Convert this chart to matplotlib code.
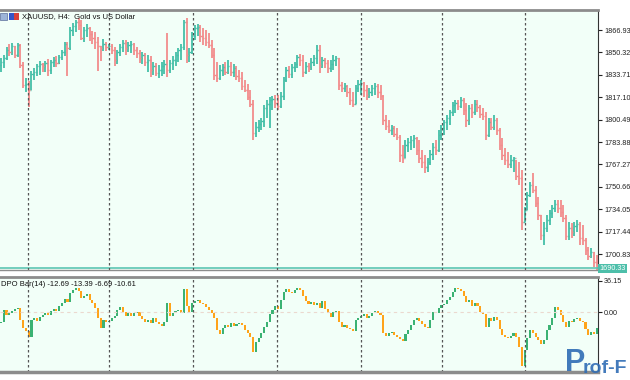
import numpy as np
import matplotlib
matplotlib.use("Agg")
import matplotlib.pyplot as plt
from matplotlib.patches import Rectangle

plt.rcParams['font.family'] = ['Liberation Sans', 'DejaVu Sans']

# XAUUSD H4 - precios (maximo, minimo, cierre)
first_open = 1841.0
highs = [1846.2, 1848.4, 1854.3, 1856.6, 1857.3, 1855.1, 1857.3, 1856.6, 1843.2, 1831.4,
         1829.1, 1836.5, 1838.8, 1841.7, 1844.0, 1842.5, 1844.0, 1845.4, 1844.7, 1846.9,
         1847.7, 1848.4, 1852.1, 1858.0, 1858.0, 1869.2, 1872.1, 1874.3, 1875.8, 1874.3,
         1869.2, 1871.4, 1869.2, 1866.2, 1865.5, 1861.7, 1855.1, 1860.3, 1858.0, 1856.6,
         1856.6, 1854.3, 1852.1, 1856.6, 1859.5, 1859.5, 1858.0, 1858.8, 1857.3, 1854.3,
         1852.1, 1850.6, 1849.9, 1848.4, 1847.7, 1843.2, 1842.5, 1841.0, 1843.2, 1844.7,
         1864.7, 1844.7, 1847.7, 1850.6, 1853.6, 1856.6, 1874.3, 1875.8, 1853.6, 1865.5,
         1870.6, 1871.4, 1870.6, 1868.4, 1866.9, 1864.7, 1859.5, 1853.6, 1843.2, 1841.0,
         1841.7, 1843.2, 1844.7, 1843.2, 1841.7, 1840.2, 1837.3, 1835.8, 1829.9, 1826.9,
         1822.5, 1815.0, 1798.7, 1800.2, 1801.7, 1811.3, 1815.0, 1817.3, 1818.0, 1818.7,
         1818.7, 1821.0, 1832.1, 1839.5, 1840.2, 1841.7, 1843.2, 1848.4, 1849.1, 1848.4,
         1843.2, 1842.5, 1846.2, 1848.4, 1855.8, 1855.8, 1846.9, 1846.2, 1844.7, 1844.7,
         1848.4, 1847.7, 1846.2, 1828.4, 1827.6, 1826.2, 1823.9, 1821.0, 1826.2, 1829.9,
         1829.9, 1828.4, 1826.2, 1823.9, 1826.2, 1827.6, 1826.9, 1826.2, 1818.7, 1803.9,
         1800.2, 1796.5, 1795.8, 1794.3, 1789.1, 1781.7, 1785.4, 1786.9, 1788.4, 1789.1,
         1787.6, 1785.4, 1778.0, 1774.3, 1772.0, 1778.0, 1783.2, 1785.4, 1792.8, 1796.5,
         1800.2, 1803.9, 1807.6, 1813.6, 1815.0, 1815.0, 1817.3, 1816.5, 1812.8, 1811.3,
         1812.1, 1815.0, 1815.0, 1811.3, 1809.1, 1806.2, 1801.7, 1801.7, 1803.9, 1801.7,
         1794.3, 1786.9, 1779.5, 1776.5, 1774.3, 1772.8, 1770.6, 1769.1, 1763.2, 1735.7,
         1746.8, 1754.3, 1761.0, 1751.3, 1743.1, 1729.8, 1724.6, 1729.8, 1733.5, 1737.2,
         1740.9, 1740.9, 1740.9, 1737.2, 1729.8, 1724.6, 1723.9, 1724.6, 1726.1, 1724.6,
         1722.4, 1712.7, 1706.1, 1705.4, 1702.4, 1700.1]
lows = [1835.8, 1838.8, 1844.7, 1847.7, 1848.4, 1846.2, 1846.9, 1838.8, 1823.9, 1821.0,
        1809.9, 1822.5, 1829.9, 1832.8, 1833.6, 1835.8, 1835.8, 1832.8, 1834.3, 1839.5,
        1839.5, 1841.7, 1844.7, 1847.7, 1832.8, 1852.1, 1862.5, 1865.5, 1866.9, 1859.5,
        1858.0, 1861.7, 1858.8, 1856.6, 1852.8, 1836.5, 1844.0, 1851.4, 1851.4, 1852.1,
        1849.1, 1840.2, 1841.7, 1847.7, 1850.6, 1848.4, 1850.6, 1849.9, 1848.4, 1846.2,
        1842.5, 1841.7, 1840.2, 1835.8, 1832.1, 1833.6, 1832.8, 1831.4, 1832.8, 1834.3,
        1832.1, 1835.1, 1837.3, 1840.2, 1843.2, 1844.7, 1852.1, 1842.5, 1843.2, 1849.1,
        1859.5, 1862.5, 1858.0, 1855.8, 1855.1, 1853.6, 1846.2, 1829.9, 1828.4, 1829.9,
        1832.8, 1833.6, 1834.3, 1832.8, 1832.1, 1829.9, 1828.4, 1822.5, 1821.0, 1815.0,
        1809.9, 1785.4, 1787.6, 1791.3, 1792.8, 1795.0, 1801.7, 1794.3, 1807.6, 1809.1,
        1807.6, 1809.1, 1815.0, 1828.4, 1831.4, 1831.4, 1835.8, 1838.8, 1840.2, 1832.1,
        1834.3, 1835.8, 1837.3, 1840.2, 1841.7, 1835.1, 1838.8, 1838.8, 1835.1, 1835.8,
        1837.3, 1840.2, 1822.5, 1821.0, 1821.0, 1817.3, 1811.3, 1809.9, 1812.1, 1821.0,
        1818.7, 1817.3, 1815.0, 1816.5, 1818.0, 1818.7, 1816.5, 1815.0, 1796.5, 1792.8,
        1790.6, 1789.1, 1787.6, 1785.4, 1769.1, 1768.4, 1772.0, 1776.5, 1778.0, 1779.5,
        1774.3, 1768.4, 1764.6, 1760.9, 1761.7, 1766.9, 1770.6, 1774.3, 1776.5, 1785.4,
        1789.1, 1792.8, 1796.5, 1803.2, 1805.4, 1807.6, 1809.1, 1803.9, 1795.0, 1796.5,
        1801.7, 1803.9, 1806.2, 1801.7, 1800.2, 1785.4, 1787.6, 1792.8, 1792.8, 1789.1,
        1778.0, 1770.6, 1766.9, 1764.6, 1764.6, 1761.7, 1755.7, 1752.0, 1718.7, 1724.6,
        1733.5, 1743.1, 1746.1, 1735.7, 1726.1, 1711.3, 1707.6, 1717.2, 1722.4, 1727.6,
        1732.0, 1731.3, 1728.3, 1724.6, 1711.3, 1711.3, 1712.7, 1714.2, 1717.2, 1707.6,
        1707.6, 1700.1, 1696.4, 1697.9, 1691.2, 1689.0]
closes = [1843.2, 1846.2, 1852.1, 1850.6, 1855.1, 1848.4, 1855.8, 1841.0, 1826.2, 1826.9,
          1822.5, 1834.3, 1835.8, 1840.2, 1841.7, 1840.2, 1842.5, 1837.3, 1843.2, 1844.7,
          1842.5, 1846.9, 1850.6, 1856.6, 1853.6, 1866.9, 1869.9, 1872.9, 1870.6, 1861.0,
          1866.9, 1868.4, 1864.0, 1861.0, 1858.0, 1855.1, 1853.6, 1856.6, 1854.3, 1855.1,
          1852.1, 1844.7, 1850.6, 1854.3, 1857.3, 1853.6, 1855.8, 1856.6, 1852.1, 1849.9,
          1846.2, 1848.4, 1843.2, 1844.7, 1837.3, 1840.2, 1835.1, 1837.3, 1840.2, 1841.7,
          1837.3, 1842.5, 1844.7, 1848.4, 1852.1, 1854.3, 1872.9, 1848.4, 1850.6, 1862.5,
          1868.4, 1869.2, 1862.5, 1861.0, 1858.0, 1855.8, 1848.4, 1833.6, 1831.4, 1837.3,
          1839.5, 1835.8, 1840.2, 1835.8, 1838.8, 1832.8, 1831.4, 1825.4, 1822.5, 1817.3,
          1812.1, 1790.6, 1795.0, 1797.2, 1799.5, 1809.1, 1812.1, 1815.0, 1815.8, 1812.8,
          1810.6, 1818.0, 1829.9, 1837.3, 1834.3, 1839.5, 1841.7, 1846.9, 1844.7, 1835.8,
          1840.2, 1838.8, 1843.2, 1846.2, 1852.1, 1841.0, 1844.7, 1842.5, 1838.8, 1841.7,
          1844.7, 1846.2, 1826.2, 1823.9, 1825.4, 1821.0, 1815.0, 1812.1, 1823.9, 1826.9,
          1827.6, 1822.5, 1818.7, 1821.0, 1823.9, 1825.4, 1821.0, 1818.0, 1800.2, 1795.8,
          1792.8, 1794.3, 1789.8, 1787.6, 1774.3, 1772.0, 1781.7, 1783.9, 1785.4, 1786.9,
          1778.0, 1772.0, 1769.1, 1765.4, 1769.1, 1775.0, 1780.2, 1778.0, 1789.1, 1794.3,
          1798.7, 1801.7, 1806.2, 1811.3, 1812.8, 1810.6, 1815.0, 1807.6, 1800.2, 1809.1,
          1806.2, 1812.1, 1809.9, 1804.7, 1803.2, 1789.1, 1798.7, 1795.0, 1800.2, 1792.8,
          1781.7, 1774.3, 1770.6, 1767.6, 1770.6, 1772.0, 1758.7, 1757.2, 1724.6, 1733.5,
          1744.6, 1752.0, 1748.3, 1738.7, 1729.8, 1715.0, 1720.2, 1726.1, 1731.3, 1735.0,
          1737.9, 1735.0, 1732.0, 1727.6, 1714.3, 1720.2, 1717.2, 1721.6, 1723.1, 1712.7,
          1711.3, 1703.8, 1699.4, 1702.4, 1695.0, 1690.33]

# DPO Bar(14)
dpo_first = -13.0
dpo = [-11.7, 2.3, -3.5, -1.2, 1.2, 3.5, 4.7, -9.3, -18.6, -22.0,
       -29.1, -9.3, -7.0, -10.5, -5.8, -3.5, -1.2, -3.5, 1.2, 3.5,
       1.2, 7.0, 10.5, 15.1, 11.7, 22.1, 25.6, 28.0, 24.5, 16.3,
       18.6, 21.0, 14.0, 10.5, 4.7, -7.0, -18.6, -9.3, -11.7, -10.5,
       -7.0, -4.7, 2.3, 5.8, 0.0, -4.7, -1.2, -4.7, -1.2, 0.0,
       -4.7, -8.2, -11.7, -9.3, -12.8, -7.0, -11.7, -14.0, -16.3, -11.7,
       10.5, -4.7, -1.2, 1.2, 2.3, -1.2, 26.8, 7.0, 0.0, 10.5,
       12.8, 14.0, 10.5, 9.3, 5.8, 2.3, -1.2, -7.0, -21.0, -25.6,
       -18.6, -15.1, -17.5, -12.8, -16.3, -14.0, -12.8, -15.1, -21.0, -24.5,
       -29.1, -46.6, -35.0, -30.3, -24.5, -17.5, -11.7, -2.3, 2.3, 7.0,
       3.5, 14.0, 23.3, 26.8, 23.3, 22.1, 25.6, 28.0, 25.6, 18.6,
       12.8, 9.3, 11.7, 8.2, 10.5, 4.7, 12.8, 3.5, -1.2, -5.8,
       0.0, 1.2, -11.7, -17.5, -15.1, -18.6, -19.8, -22.0, -9.3, -7.0,
       -4.7, -2.3, -7.0, -4.7, -1.2, 1.2, -1.2, -3.5, -24.5, -28.0,
       -24.5, -23.3, -26.8, -29.1, -31.4, -33.8, -25.6, -21.0, -15.1, -9.3,
       -7.0, -10.5, -14.0, -17.5, -18.6, -9.3, 0.0, -1.2, 4.7, 8.2,
       9.3, 14.0, 17.5, 23.3, 28.0, 26.8, 24.5, 18.6, 11.7, 14.0,
       7.0, 10.5, 7.0, 0.0, -2.3, -17.5, -7.0, -10.5, -5.8, -9.3,
       -19.8, -26.8, -29.1, -30.3, -28.0, -24.5, -29.1, -40.8, -62.9, -44.3,
       -30.3, -21.0, -24.5, -29.1, -32.6, -37.3, -32.6, -21.0, -15.1, -7.0,
       5.8, 2.3, -3.5, -11.7, -17.5, -10.5, -11.7, -8.2, -7.0, -10.5,
       -11.7, -19.8, -26.8, -23.3, -25.6, -18.6]

# separadores semanales (posicion en barras)
separators = [9.75, 39.0, 69.3, 99.6, 130.0, 159.2, 189.2]
price_ticks = [1866.93, 1850.32, 1833.71, 1817.10, 1800.49, 1783.88,
               1767.27, 1750.66, 1734.05, 1717.44, 1700.83]
dpo_ticks = [36.15, 0.00]

bg = '#F2FFF8'
up_col = '#45BFA8'
dn_col = '#F28C8C'
W, H = 630, 380

closes = np.array(closes)
highs = np.array(highs)
lows = np.array(lows)
opens = np.concatenate([[first_open], closes[:-1]])
dpo = np.array(dpo)
dpo_prev = np.concatenate([[dpo_first], dpo[:-1]])
idx = np.arange(len(closes))

fig = plt.figure(figsize=(6.3, 3.8), dpi=100, facecolor='white')
ax1 = fig.add_axes([0, 1 - 270 / H, 598 / W, 260 / H], facecolor=bg)
ax2 = fig.add_axes([0, 1 - 372 / H, 598 / W, 95 / H], facecolor=bg)

# barras OHLC
cols = np.where(closes >= opens, up_col, dn_col)
ax1.vlines(idx, lows, highs, colors=cols, lw=1.3)
ax1.hlines(opens, idx - 0.45, idx, colors=cols, lw=1.0)
ax1.hlines(closes, idx, idx + 0.45, colors=cols, lw=1.0)

last = closes[-1]
ax1.axhline(last, color='#5CC6B3', lw=1.2)

ax1.set_xlim(-0.36, 215.5)
ax1.set_ylim(1689.0, 1881.8)
ax1.set_xticks([])
ax1.yaxis.tick_right()
ax1.set_yticks(price_ticks)
ax1.set_yticklabels(['%.2f' % t for t in price_ticks])
ax1.tick_params(axis='y', labelsize=5.2, length=3, width=0.8, pad=1.5, colors='#222222')

ax1.text(1.002, last, '%.2f' % last, transform=ax1.get_yaxis_transform(),
         fontsize=5.2, color='white', va='center', ha='left',
         bbox=dict(boxstyle='square,pad=0.15', fc='#4DBFAA', ec='none'), clip_on=False)

# DPO como barras de color
dcols = np.where(dpo >= dpo_prev, '#3BB273', '#FFA31A')
ax2.bar(idx, dpo - dpo_prev, bottom=dpo_prev, width=0.75, color=dcols)
ax2.axhline(0, color='#EBD9CF', lw=0.8, linestyle=(0, (3, 3)))
ax2.set_xlim(-0.36, 215.5)
ax2.set_ylim(-69.9, 40.8)
ax2.set_xticks([])
ax2.yaxis.tick_right()
ax2.set_yticks(dpo_ticks)
ax2.set_yticklabels(['%.2f' % t for t in dpo_ticks])
ax2.tick_params(axis='y', labelsize=5.2, length=3, width=0.8, pad=1.5, colors='#222222')

for ax in (ax1, ax2):
    for s in separators:
        ax.axvline(s, color='#555555', lw=0.9, linestyle=(0, (2, 2)))
    ax.spines['left'].set_visible(False)
    ax.spines['right'].set_color('#333333')
    ax.spines['right'].set_linewidth(0.8)
    ax.spines['top'].set_color('#8C8C8C')
    ax.spines['top'].set_linewidth(2)
    ax.spines['bottom'].set_color('#8C8C8C')
    ax.spines['bottom'].set_linewidth(1)
ax2.spines['bottom'].set_linewidth(2.5)

# textos
ax1.text(22 / 598, 1 - 7 / 260, 'XAUUSD, H4:  Gold vs US Dollar', transform=ax1.transAxes,
         fontsize=5.5, va='center', ha='left', color='#111111')
fig.patches.append(Rectangle((0, 1 - 20 / H), 7 / W, 7 / H, transform=fig.transFigure,
                             fc='#9DB5D8', ec='#5A6E9A', lw=0.5))
fig.patches.append(Rectangle((9 / W, 1 - 20 / H), 5 / W, 7 / H, transform=fig.transFigure,
                             fc='#3455C8', ec='none'))
fig.patches.append(Rectangle((14 / W, 1 - 20 / H), 5 / W, 7 / H, transform=fig.transFigure,
                             fc='#D8403A', ec='none'))
fig.text(1 / W, 1 - 284 / H, 'DPO Bar(14) -12.69 -13.39 -6.69 -10.61',
         fontsize=5.5, va='center', ha='left', color='#111111')

# marca de agua
fig.text(565 / W, 2 / H, 'P', fontsize=22, fontweight='bold', color='#2F6DB5',
         ha='left', va='bottom', alpha=0.9)
fig.text(583 / W, 3 / H, 'rof-F', fontsize=14, fontweight='bold', color='#2F6DB5',
         family=['Liberation Sans Narrow', 'Liberation Sans'],
         ha='left', va='bottom', alpha=0.9)

fig.savefig('out.png', dpi=100, facecolor='white')
